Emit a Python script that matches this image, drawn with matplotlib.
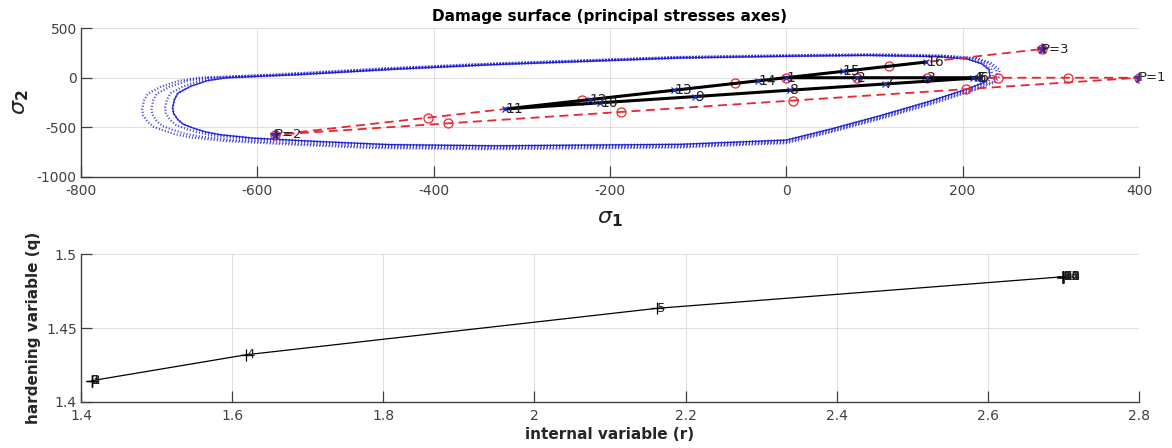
import matplotlib
matplotlib.use('Agg')
import matplotlib.pyplot as plt
from matplotlib.ticker import FuncFormatter

plt.rcParams['font.family'] = ['DejaVu Sans']
plt.rcParams['axes.unicode_minus'] = False

# ---------------- data ----------------
# initial damage surface (principal stresses)
surf_s1 = [-635, -552, -440, -330, -220, -120, 0, 90, 170, 205, 222, 230, 231, 226, 205,
           160, 106, 50, 0, -120, -330, -450, -530, -605, -642, -660, -673, -684, -690,
           -695, -696, -694, -690, -676, -657, -635]
surf_s2 = [0, 32, 88, 133, 168, 200, 217, 226, 214, 190, 140, 80, 20, -40, -115,
           -245, -385, -520, -630, -673, -688, -676, -645, -610, -576, -545, -508, -470, -424,
           -360, -300, -220, -155, -88, -30, 0]

# trial (elastic predictor) stresses at each step
trial_s1 = [0, 80, 160, 240, 320, 400, 204, 8, -188, -384, -580, -406, -232, -58, 116, 290]
trial_s2 = [0, 0, 0, 0, 0, 0, -115, -230, -346, -461, -576, -403, -229, -57, 117, 290]

# actual stresses at each step
stress_s1 = [0, 80, 160, 212, 217, 220, 112, 4, -103, -211, -319, -223, -127, -32, 64, 159]
stress_s2 = [0, 0, 0, 0, 0, 0, -63, -126, -190, -253, -316, -221, -126, -31, 64, 159]
step_labels = ['1', '2', '3', '4', '5', '6', '7', '8', '9', '10', '11', '12', '13', '14', '15', '16']

# load points
load_s1 = [400, -580, 290]
load_s2 = [0, -576, 290]
load_labels = ['P=1', 'P=2', 'P=3']

# internal variable r and hardening variable q at each step
r_vals = [1.414, 1.414, 1.414, 1.619, 2.162, 2.700, 2.700, 2.700, 2.700, 2.700, 2.700,
          2.700, 2.700, 2.700, 2.700, 2.700]
q_vals = [1.4144, 1.4144, 1.4144, 1.432, 1.4634, 1.4848, 1.4848, 1.4848, 1.4848, 1.4848,
          1.4848, 1.4848, 1.4848, 1.4848, 1.4848, 1.4848]

# distinct hardening levels whose surfaces are drawn dotted
surface_q = [1.4144, 1.432, 1.4634, 1.4848]

# ---------------- figure ----------------
fig = plt.figure(figsize=(11.72, 4.48), dpi=100)
ax1 = fig.add_axes([0.0691, 0.6056, 0.9027, 0.3313])
ax2 = fig.add_axes([0.0691, 0.1027, 0.9027, 0.3297])

AXC = '#404040'


def style(ax):
    for s in ['top', 'right']:
        ax.spines[s].set_visible(False)
    for s in ['bottom', 'left']:
        ax.spines[s].set_color(AXC)
        ax.spines[s].set_linewidth(1.0)
    ax.tick_params(direction='in', length=8, width=0.9, colors=AXC, labelsize=10)
    ax.tick_params(axis='x', pad=5)
    ax.tick_params(axis='y', pad=3)
    ax.grid(True, color='#dedede', lw=0.7)
    ax.set_axisbelow(True)


fmt = FuncFormatter(lambda v, p: '%g' % v)

# ---- top: damage surface ----
style(ax1)
for qv in surface_q:
    sc = qv / surface_q[0]
    ax1.plot([s * sc for s in surf_s1], [s * sc for s in surf_s2], color='#1a1ad8',
             ls=(0, (0.5, 0.9)), lw=1.6, alpha=0.8)
ax1.plot(surf_s1, surf_s2, color='#1f1fdc', lw=0.9)

ax1.plot(trial_s1, trial_s2, color='#e62630', ls=(0, (5, 3)), lw=1.3)
ax1.plot(trial_s1, trial_s2, ls='none', marker='o', ms=6.5, mfc='none', mec='#e62630', mew=0.9)

ax1.plot(stress_s1, stress_s2, color='black', lw=2.2)
ax1.plot(stress_s1, stress_s2, ls='none', marker='x', ms=5, mec='#2030c0', mew=0.9)
for x, y, t in zip(stress_s1, stress_s2, step_labels):
    ax1.text(x, y, t, ha='left', va='center', fontsize=10, color='#202020')

ax1.plot(load_s1, load_s2, ls='none', marker='*', ms=8, color='#5a2aa0')
for x, y, t in zip(load_s1, load_s2, load_labels):
    ax1.text(x, y, t, ha='left', va='center', fontsize=9.5, color='#202020')

ax1.set_xlim(-800, 400)
ax1.set_ylim(-1000, 500)
ax1.set_xticks([-800, -600, -400, -200, 0, 200, 400])
ax1.set_yticks([-1000, -500, 0, 500])
ax1.xaxis.set_major_formatter(fmt)
ax1.yaxis.set_major_formatter(fmt)
ax1.set_title('Damage surface (principal stresses axes)', fontsize=11, fontweight='bold', pad=5)
ax1.set_xlabel(r'$\sigma_\mathbf{1}$', fontsize=16, labelpad=8, color='#202020')
ax1.set_ylabel(r'$\sigma_\mathbf{2}$', fontsize=16, labelpad=4, color='#202020')

# ---- bottom: hardening ----
style(ax2)
ax2.plot(r_vals, q_vals, color='black', lw=0.9, marker='+', ms=9, mew=0.9)
for x, y, t in zip(r_vals, q_vals, step_labels):
    ax2.text(x, y, t, ha='left', va='center', fontsize=9.5, color='#202020')
ax2.set_xlim(1.4, 2.8)
ax2.set_ylim(1.4, 1.5)
ax2.set_xticks([1.4, 1.6, 1.8, 2.0, 2.2, 2.4, 2.6, 2.8])
ax2.set_yticks([1.4, 1.45, 1.5])
ax2.xaxis.set_major_formatter(fmt)
ax2.yaxis.set_major_formatter(fmt)
ax2.set_xlabel('internal variable (r)', fontsize=11, fontweight='bold', labelpad=3, color='#262626')
ax2.set_ylabel('hardening variable (q)', fontsize=11, fontweight='bold', labelpad=4, color='#262626')

fig.savefig('out.png', dpi=100)
